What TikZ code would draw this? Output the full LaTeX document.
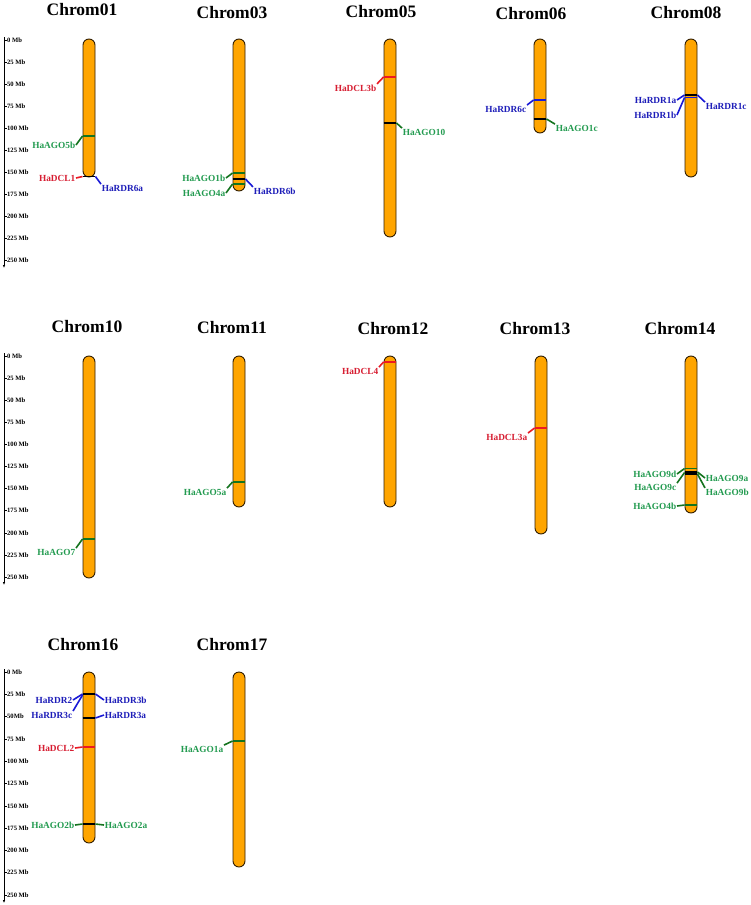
\documentclass[tikz,border=0pt]{standalone}
\usepackage{fontspec}
\setmainfont{Liberation Serif}
\usetikzlibrary{arrows.meta}

\definecolor{chromfill}{RGB}{255,165,0}
\definecolor{chromedge}{RGB}{50,30,0}
\definecolor{agotxt}{RGB}{35,155,80}
\definecolor{agocol}{RGB}{20,115,30}
\definecolor{dcltxt}{RGB}{215,30,50}
\definecolor{dclcol}{RGB}{235,25,35}
\definecolor{rdrtxt}{RGB}{30,30,185}
\definecolor{rdrcol}{RGB}{25,25,215}

\tikzset{
  chrom/.style={draw=chromedge, fill=chromfill, line width=0.9pt, rounded corners=6pt,
    minimum width=12pt, inner sep=0pt},
  chromtitle/.style={font=\bfseries\fontsize{17.5}{17.5}\selectfont, inner sep=0pt},
  gene/.style={font=\bfseries\fontsize{9.3}{10}\selectfont, inner sep=0.6pt},
  ago/.style={gene, text=agotxt},
  dcl/.style={gene, text=dcltxt},
  rdr/.style={gene, text=rdrtxt},
  agoline/.style={draw=agocol, line width=1.6pt},
  dclline/.style={draw=dclcol, line width=1.6pt},
  rdrline/.style={draw=rdrcol, line width=1.6pt},
  genemark/.style={line width=1.7pt},
  axisline/.style={line width=0.8pt, -{Latex[length=3pt,width=2.5pt]}},
  axistick/.style={line width=0.6pt},
  mb/.style={font=\bfseries\fontsize{6.6}{7}\selectfont, anchor=west, inner sep=0pt}
}

\begin{document}
\begin{tikzpicture}[x=1pt,y=-1pt]
  \useasboundingbox[fill=white] (0,0) rectangle (750,905);

  % Draw scale axes.
  \draw[axisline] (4,37) -- (4,268);
  \foreach \k/\t in {0/0 Mb,1/25 Mb,2/50 Mb,3/75 Mb,4/100 Mb,5/125 Mb,6/150 Mb,7/175 Mb,8/200 Mb,9/225 Mb,10/250 Mb}{
    \draw[axistick] (4,40+22*\k) -- (6.5,40+22*\k);
    \node[mb] (mba\k) at (7,40+22*\k) {\t};
  }
  \draw[axisline] (4,353) -- (4,585);
  \foreach \k/\t in {0/0 Mb,1/25 Mb,2/50 Mb,3/75 Mb,4/100 Mb,5/125 Mb,6/150 Mb,7/175 Mb,8/200 Mb,9/225 Mb,10/250 Mb}{
    \draw[axistick] (4,356+22.1*\k) -- (6.5,356+22.1*\k);
    \node[mb] (mbb\k) at (7,356+22.1*\k) {\t};
  }
  \draw[axisline] (4,669) -- (4,903);
  \foreach \k/\t in {0/0 Mb,1/25 Mb,2/50Mb,3/75 Mb,4/100 Mb,5/125 Mb,6/150 Mb,7/175 Mb,8/200 Mb,9/225 Mb,10/250 Mb}{
    \draw[axistick] (4,672+22.3*\k) -- (6.5,672+22.3*\k);
    \node[mb] (mbc\k) at (7,672+22.3*\k) {\t};
  }

  % Draw chromosomes and titles.
  \node[chrom, minimum height=138pt] (chr01) at (89,108) {};
  \node[chrom, minimum height=152pt] (chr03) at (239,115) {};
  \node[chrom, minimum height=198pt] (chr05) at (390,138) {};
  \node[chrom, minimum height=94pt]  (chr06) at (540,86) {};
  \node[chrom, minimum height=138pt] (chr08) at (691,108) {};
  \node[chrom, minimum height=222pt] (chr10) at (89,467) {};
  \node[chrom, minimum height=151pt] (chr11) at (239,431.5) {};
  \node[chrom, minimum height=151pt] (chr12) at (390,431.5) {};
  \node[chrom, minimum height=178pt] (chr13) at (541,445) {};
  \node[chrom, minimum height=157pt] (chr14) at (691,434.5) {};
  \node[chrom, minimum height=171pt] (chr16) at (89,757.5) {};
  \node[chrom, minimum height=195pt] (chr17) at (239,769.5) {};

  \node[chromtitle] (t01) at (82,10) {Chrom01};
  \node[chromtitle] (t03) at (232,13) {Chrom03};
  \node[chromtitle] (t05) at (381,12) {Chrom05};
  \node[chromtitle] (t06) at (531,14) {Chrom06};
  \node[chromtitle] (t08) at (686,13) {Chrom08};
  \node[chromtitle] (t10) at (87,327) {Chrom10};
  \node[chromtitle] (t11) at (232,328) {Chrom11};
  \node[chromtitle] (t12) at (393,329) {Chrom12};
  \node[chromtitle] (t13) at (535,329) {Chrom13};
  \node[chromtitle] (t14) at (680,329) {Chrom14};
  \node[chromtitle] (t16) at (83,645) {Chrom16};
  \node[chromtitle] (t17) at (232,645) {Chrom17};

  % Chrom01 genes
  \draw[genemark, agocol] (chr01.west |- 0,136) -- (chr01.east |- 0,136);
  \draw[genemark, black] (chr01.west |- 0,176.5) -- (chr01.east |- 0,176.5);
  \node[ago, anchor=east] (ago5b) at (76,145) {HaAGO5b};
  \node[dcl, anchor=east] (dcl1) at (76,178) {HaDCL1};
  \node[rdr, anchor=west] (rdr6a) at (101,188) {HaRDR6a};
  \draw[agoline] (ago5b.east) -- (chr01.west |- 0,136);
  \draw[dclline] (dcl1.east) -- (chr01.west |- 0,176.5);
  \draw[rdrline] (chr01.east |- 0,176.5) -- (rdr6a.north west);

  % Chrom03 genes
  \draw[genemark, agocol] (chr03.west |- 0,173) -- (chr03.east |- 0,173);
  \draw[genemark, black] (chr03.west |- 0,179) -- (chr03.east |- 0,179);
  \draw[genemark, agocol] (chr03.west |- 0,184) -- (chr03.east |- 0,184);
  \node[ago, anchor=east] (ago1b) at (226,178) {HaAGO1b};
  \node[ago, anchor=east] (ago4a) at (226,193) {HaAGO4a};
  \node[rdr, anchor=west] (rdr6b) at (253,191) {HaRDR6b};
  \draw[agoline] (ago1b.east) -- (chr03.west |- 0,173);
  \draw[agoline] (ago4a.east) -- (chr03.west |- 0,184);
  \draw[rdrline] (chr03.east |- 0,179) -- (rdr6b.north west);

  % Chrom05 genes
  \draw[genemark, dclcol] (chr05.west |- 0,77) -- (chr05.east |- 0,77);
  \draw[genemark, black] (chr05.west |- 0,123) -- (chr05.east |- 0,123);
  \node[dcl, anchor=east] (dcl3b) at (377,88) {HaDCL3b};
  \node[ago, anchor=west] (ago10) at (402,132) {HaAGO10};
  \draw[dclline] (dcl3b.north east) -- (chr05.west |- 0,77);
  \draw[agoline] (chr05.east |- 0,123) -- (ago10.north west);

  % Chrom06 genes
  \draw[genemark, rdrcol] (chr06.west |- 0,100) -- (chr06.east |- 0,100);
  \draw[genemark, black] (chr06.west |- 0,119) -- (chr06.east |- 0,119);
  \node[rdr, anchor=east] (rdr6c) at (527,109) {HaRDR6c};
  \node[ago, anchor=west] (ago1c) at (555,128) {HaAGO1c};
  \draw[rdrline] (rdr6c.north east) -- (chr06.west |- 0,100);
  \draw[agoline] (chr06.east |- 0,119) -- (ago1c.north west);

  % Chrom08 genes
  \draw[genemark, black] (chr08.west |- 0,95) -- (chr08.east |- 0,95);
  \draw[genemark, rdrcol] (chr08.west |- 0,97.5) -- (chr08.east |- 0,97.5);
  \node[rdr, anchor=east] (rdr1a) at (677,100) {HaRDR1a};
  \node[rdr, anchor=east] (rdr1b) at (677,115) {HaRDR1b};
  \node[rdr, anchor=west] (rdr1c) at (705,106) {HaRDR1c};
  \draw[rdrline] (rdr1a.east) -- (chr08.west |- 0,95);
  \draw[rdrline] (rdr1b.east) -- (chr08.west |- 0,97.5);
  \draw[rdrline] (chr08.east |- 0,95) -- (rdr1c.north west);

  % Chrom10 genes
  \draw[genemark, agocol] (chr10.west |- 0,539) -- (chr10.east |- 0,539);
  \node[ago, anchor=east] (ago7) at (76,552) {HaAGO7};
  \draw[agoline] (ago7.north east) -- (chr10.west |- 0,539);

  % Chrom11 genes
  \draw[genemark, agocol] (chr11.west |- 0,482) -- (chr11.east |- 0,482);
  \node[ago, anchor=east] (ago5a) at (227,492) {HaAGO5a};
  \draw[agoline] (ago5a.north east) -- (chr11.west |- 0,482);

  % Chrom12 genes
  \draw[genemark, dclcol] (chr12.west |- 0,362) -- (chr12.east |- 0,362);
  \node[dcl, anchor=east] (dcl4) at (379,371) {HaDCL4};
  \draw[dclline] (dcl4.north east) -- (chr12.west |- 0,362);

  % Chrom13 genes
  \draw[genemark, dclcol] (chr13.west |- 0,428) -- (chr13.east |- 0,428);
  \node[dcl, anchor=east] (dcl3a) at (528,437) {HaDCL3a};
  \draw[dclline] (dcl3a.north east) -- (chr13.west |- 0,428);

  % Chrom14 genes
  \draw[genemark, agocol] (chr14.west |- 0,468.5) -- (chr14.east |- 0,468.5);
  \draw[line width=3.6pt, black] (chr14.west |- 0,473) -- (chr14.east |- 0,473);
  \draw[genemark, agocol] (chr14.west |- 0,505) -- (chr14.east |- 0,505);
  \node[ago, anchor=east] (ago9d) at (677,474) {HaAGO9d};
  \node[ago, anchor=east] (ago9c) at (677,487) {HaAGO9c};
  \node[ago, anchor=east] (ago4b) at (677,506) {HaAGO4b};
  \node[ago, anchor=west] (ago9a) at (705,478) {HaAGO9a};
  \node[ago, anchor=west] (ago9b) at (705,492) {HaAGO9b};
  \draw[agoline] (ago9d.east) -- (chr14.west |- 0,468.5);
  \draw[agoline] (ago9c.north east) -- (chr14.west |- 0,472.5);
  \draw[agoline] (ago4b.east) -- (chr14.west |- 0,505);
  \draw[agoline] (chr14.east |- 0,472) -- (ago9a.west);
  \draw[agoline] (chr14.east |- 0,474) -- (ago9b.north west);

  % Chrom16 genes
  \draw[genemark, black] (chr16.west |- 0,694) -- (chr16.east |- 0,694);
  \draw[genemark, black] (chr16.west |- 0,718) -- (chr16.east |- 0,718);
  \draw[genemark, dclcol] (chr16.west |- 0,747) -- (chr16.east |- 0,747);
  \draw[genemark, black] (chr16.west |- 0,824) -- (chr16.east |- 0,824);
  \node[rdr, anchor=east] (rdr2) at (73,700) {HaRDR2};
  \node[rdr, anchor=east] (rdr3c) at (73,715) {HaRDR3c};
  \node[rdr, anchor=west] (rdr3b) at (104,700) {HaRDR3b};
  \node[rdr, anchor=west] (rdr3a) at (104,715) {HaRDR3a};
  \node[dcl, anchor=east] (dcl2) at (75,748) {HaDCL2};
  \node[ago, anchor=east] (ago2b) at (75,825) {HaAGO2b};
  \node[ago, anchor=west] (ago2a) at (104,825) {HaAGO2a};
  \draw[rdrline] (rdr2.east) -- (chr16.west |- 0,694);
  \draw[rdrline] (rdr3c.north east) -- (chr16.west |- 0,695);
  \draw[rdrline] (chr16.east |- 0,694) -- (rdr3b.west);
  \draw[rdrline] (chr16.east |- 0,718) -- (rdr3a.west);
  \draw[dclline] (dcl2.east) -- (chr16.west |- 0,747);
  \draw[agoline] (ago2b.east) -- (chr16.west |- 0,824);
  \draw[agoline] (chr16.east |- 0,824) -- (ago2a.west);

  % Chrom17 genes
  \draw[genemark, agocol] (chr17.west |- 0,741) -- (chr17.east |- 0,741);
  \node[ago, anchor=east] (ago1a) at (224,749) {HaAGO1a};
  \draw[agoline] (ago1a.north east) -- (chr17.west |- 0,741);
\end{tikzpicture}
\end{document}
